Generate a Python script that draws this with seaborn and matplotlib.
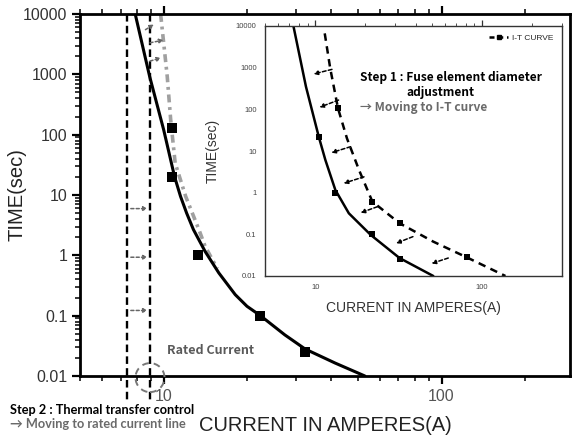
import numpy as np
import pandas as pd
import matplotlib
matplotlib.use("Agg")
import matplotlib.pyplot as plt
import seaborn as sns
from matplotlib.patches import Circle
from matplotlib.transforms import IdentityTransform
from matplotlib.ticker import LogLocator, NullFormatter, FuncFormatter
from matplotlib.lines import Line2D

# ---------------- data (current in A, time in s) ----------------
main_curve_current = [7.9, 8.9, 10.0, 10.95, 11.5, 12.1, 12.8, 14.1, 15.8, 18.1, 19.95, 22.3, 27.3, 32.3, 41.4, 53.0]
main_curve_time = [10000, 930, 121, 20, 9.5, 5.0, 2.67, 1.16, 0.51, 0.223, 0.143, 0.1, 0.048, 0.028, 0.0164, 0.01]

main_square_current = [10.7, 10.7, 13.3, 22.3, 32.3]
main_square_time = [128, 20, 1.0, 0.097, 0.025]

gray_curve_current = [9.75, 10.3, 10.6, 11.0, 12.0, 13.4, 14.1, 15.6]
gray_curve_time = [10000, 930, 177, 34, 9.5, 2.65, 1.41, 0.6]

rated_lines = [7.41, 8.93]

# thermal-transfer arrows (between the two rated lines)
tt_arrow_from = [7.62, 7.62, 7.62]
tt_arrow_to = [8.76, 8.76, 8.76]
tt_arrow_time = [5.95, 0.93, 0.122]

# arrows toward the gray curve at the top
top_arrow_from_I = [8.6, 8.93, 8.93]
top_arrow_from_t = [5500, 3330, 1660]
top_arrow_to_I = [9.23, 10.0, 9.8]
top_arrow_to_t = [6700, 3700, 1870]

circle_center = (8.93, 0.0094)

# inset
inset_solid_current = [7.4, 8.8, 10.5, 11.5, 13.2, 15.9, 21.5, 32.0, 51.0]
inset_solid_time = [10000, 350, 22, 6.1, 1.16, 0.32, 0.097, 0.027, 0.01]
inset_solid_sq_current = [10.5, 13.2, 22.0, 32.4]
inset_solid_sq_time = [22, 1.0, 0.1, 0.026]

inset_it_current = [11.4, 12.3, 13.7, 15.5, 18.3, 22.0, 32.0, 50.9, 81.0, 138.0]
inset_it_time = [6650, 960, 105, 20, 3.5, 0.61, 0.185, 0.067, 0.028, 0.01]
inset_it_sq_current = [13.7, 22.0, 32.0, 81.0]
inset_it_sq_time = [105, 0.61, 0.185, 0.028]

inset_arrow_from_I = [12.6, 13.8, 16.3, 19.6, 23.6, 38.5, 62.7]
inset_arrow_from_t = [910, 167, 12.7, 2.4, 0.46, 0.088, 0.027]
inset_arrow_to_I = [9.77, 10.6, 12.5, 14.8, 18.7, 30.5, 49.8]
inset_arrow_to_t = [705, 112, 9.1, 1.68, 0.33, 0.061, 0.02]

# ---------------- figure ----------------
sns.set_theme(style="white")
plt.rcParams['font.family'] = ['Liberation Sans', 'DejaVu Sans']
W, H = 574, 436
fig = plt.figure(figsize=(W / 100, H / 100), dpi=100)
ax = fig.add_axes([80 / W, 1 - 376 / H, 490 / W, 362 / H])
axin = fig.add_axes([265 / W, 1 - 276 / H, 296.7 / W, 250 / H])
axin.set_zorder(5)

for a in (ax, axin):
    a.set_xscale('log')
    a.set_yscale('log')

# main curves
df_main = pd.DataFrame({'I': main_curve_current, 't': main_curve_time})
df_gray = pd.DataFrame({'I': gray_curve_current, 't': gray_curve_time})
df_msq = pd.DataFrame({'I': main_square_current, 't': main_square_time})
sns.lineplot(data=df_gray, x='I', y='t', ax=ax, color='#a0a0a0', lw=2.6,
             linestyle=(0, (2.2, 1.3, 0.8, 1.3)), sort=False, estimator=None, zorder=2)
sns.lineplot(data=df_main, x='I', y='t', ax=ax, color='black', lw=2.2,
             sort=False, estimator=None, zorder=3)
sns.scatterplot(data=df_msq, x='I', y='t', ax=ax, marker='s', s=55, color='black',
                edgecolor='black', linewidth=0, zorder=4)

ax.set_xlim(5, 290)
ax.set_ylim(0.01, 10000)

xt = ax.get_xaxis_transform()
for xv in rated_lines:
    ax.plot([xv, xv], [1.0, -0.075], transform=xt, color='black', lw=1.7,
            linestyle=(0, (3.2, 1.8)), clip_on=False, zorder=3)

arrow_kw = dict(arrowstyle='-|>', color='#666666', lw=1.1, linestyle=(0, (2, 1.5)),
                mutation_scale=6, shrinkA=0, shrinkB=0)
for i0, i1, t in zip(tt_arrow_from, tt_arrow_to, tt_arrow_time):
    ax.annotate('', xy=(i1, t), xytext=(i0, t), arrowprops=arrow_kw)
for i0, t0, i1, t1 in zip(top_arrow_from_I, top_arrow_from_t, top_arrow_to_I, top_arrow_to_t):
    ax.annotate('', xy=(i1, t1), xytext=(i0, t0), arrowprops=arrow_kw)

# ticks main
ax.xaxis.set_major_locator(LogLocator(base=10, numticks=10))
ax.xaxis.set_minor_locator(LogLocator(base=10, subs=np.arange(2, 10), numticks=20))
ax.yaxis.set_major_locator(LogLocator(base=10, numticks=10))
ax.yaxis.set_minor_locator(LogLocator(base=10, subs=np.arange(2, 10), numticks=50))
fmt = FuncFormatter(lambda v, p: f'{v:g}')
ax.xaxis.set_major_formatter(fmt)
ax.yaxis.set_major_formatter(fmt)
ax.xaxis.set_minor_formatter(NullFormatter())
ax.yaxis.set_minor_formatter(NullFormatter())
ax.tick_params(which='both', direction='out', top=True, right=False, bottom=True, left=True,
               labeltop=False, color='black')
ax.tick_params(which='major', length=6, width=1.6)
ax.tick_params(which='minor', length=3.5, width=1.1)
ax.tick_params(axis='x', which='major', labelsize=11.5, labelcolor='#555555', pad=3)
ax.tick_params(axis='y', which='major', labelsize=11.5, labelcolor='#333333', pad=3)
for s in ax.spines.values():
    s.set_color('black')
    s.set_linewidth(2.0)
ax.set_xlabel('CURRENT IN AMPERES(A)', fontsize=14.5, color='#222222', va='center')
ax.xaxis.set_label_coords(0.5, (376 - 425) / 362)
ax.set_ylabel('TIME(sec)', fontsize=14.5, color='#222222', va='center')
ax.yaxis.set_label_coords((17 - 80) / 490, 0.5)

# dashed circle around rated current
fig.canvas.draw()
cx, cy = ax.transData.transform(circle_center)
circ = Circle((cx, cy), 14.5, transform=IdentityTransform(), fill=False, ec='#777777',
              lw=1.4, linestyle=(0, (3.5, 2.5)), clip_on=False, zorder=6)
fig.add_artist(circ)

# ---------------- inset ----------------
df_is = pd.DataFrame({'I': inset_solid_current, 't': inset_solid_time})
df_iss = pd.DataFrame({'I': inset_solid_sq_current, 't': inset_solid_sq_time})
df_it = pd.DataFrame({'I': inset_it_current, 't': inset_it_time})
df_its = pd.DataFrame({'I': inset_it_sq_current, 't': inset_it_sq_time})
sns.lineplot(data=df_is, x='I', y='t', ax=axin, color='black', lw=1.8, sort=False, estimator=None)
sns.scatterplot(data=df_iss, x='I', y='t', ax=axin, marker='s', s=14, color='black', linewidth=0, zorder=4)
sns.lineplot(data=df_it, x='I', y='t', ax=axin, color='black', lw=1.8,
             linestyle=(0, (3, 2.2)), sort=False, estimator=None)
sns.scatterplot(data=df_its, x='I', y='t', ax=axin, marker='s', s=14, color='black', linewidth=0, zorder=4)
inset_arrow_kw = dict(arrowstyle='-|>', color='black', lw=1.1, linestyle=(0, (2.5, 1.5)),
                      mutation_scale=6, shrinkA=0, shrinkB=0)
for i0, t0, i1, t1 in zip(inset_arrow_from_I, inset_arrow_from_t, inset_arrow_to_I, inset_arrow_to_t):
    axin.annotate('', xy=(i1, t1), xytext=(i0, t0), arrowprops=inset_arrow_kw)

axin.set_xlim(5, 300)
axin.set_ylim(0.01, 10000)
axin.xaxis.set_major_locator(LogLocator(base=10, numticks=10))
axin.xaxis.set_minor_locator(LogLocator(base=10, subs=np.arange(2, 10), numticks=20))
axin.yaxis.set_major_locator(LogLocator(base=10, numticks=10))
axin.yaxis.set_minor_locator(LogLocator(base=10, subs=np.arange(2, 10), numticks=50))
axin.xaxis.set_major_formatter(fmt)
axin.yaxis.set_major_formatter(fmt)
axin.xaxis.set_minor_formatter(NullFormatter())
axin.yaxis.set_minor_formatter(NullFormatter())
axin.tick_params(which='both', direction='out', top=True, right=False, labeltop=False,
                 color='#333333', labelsize=5.5, labelcolor='#444444', pad=2)
axin.tick_params(which='major', length=4, width=0.9)
axin.tick_params(which='minor', length=2, width=0.6)
for s in axin.spines.values():
    s.set_color('#333333')
    s.set_linewidth(1.0)
axin.set_facecolor('white')
axin.set_xlabel('CURRENT IN AMPERES(A)', fontsize=10, color='#333333', va='center')
axin.xaxis.set_label_coords(0.5, (276 - 308) / 250)
axin.set_ylabel('TIME(sec)', fontsize=10, color='#333333', va='center')
axin.yaxis.set_label_coords((213 - 265) / 296.7, 0.5)
handle = Line2D([], [], color='black', lw=1.8, linestyle=(0, (2, 1.5)), marker='s', markersize=3.5)
axin.legend(handles=[handle], labels=['I-T CURVE'], loc='upper right', frameon=False,
            fontsize=6, handlelength=2.2, borderaxespad=0.6, handletextpad=0.5)

# ---------------- annotation texts ----------------
kfont = ['Noto Sans CJK KR', 'DejaVu Sans']
lfont = ['Lato', 'DejaVu Sans']
fig.text(360 / W, 1 - 78 / H, 'Step 1 : Fuse element diameter', fontsize=8.6, fontweight='bold',
         family=kfont, color='black', va='center', ha='left', zorder=10)
fig.text(440 / W, 1 - 92.5 / H, 'adjustment', fontsize=8.6, fontweight='bold',
         family=kfont, color='black', va='center', ha='center', zorder=10)
fig.text(360 / W, 1 - 107 / H, '→ Moving to I-T curve', fontsize=8.6, fontweight='bold',
         family=kfont, color='#6a6a6a', va='center', ha='left', zorder=10)
fig.text(167 / W, 1 - 350 / H, 'Rated Current', fontsize=9, fontweight='bold',
         family=kfont, color='#5a5a5a', va='center', ha='left')
fig.text(10 / W, 1 - 410 / H, 'Step 2 : Thermal transfer control', fontsize=9.2, fontweight='bold',
         family=lfont, color='black', va='center', ha='left')
fig.text(10 / W, 1 - 423.5 / H, '→ Moving to rated current line', fontsize=9.2, fontweight='bold',
         family=lfont, color='#6a6a6a', va='center', ha='left')

fig.savefig('out.png', dpi=100, facecolor='white')
